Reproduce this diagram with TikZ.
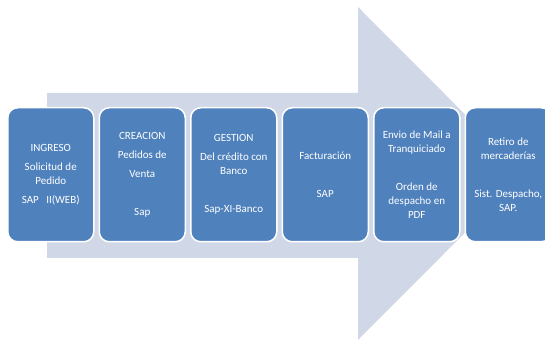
\documentclass[tikz,border=0pt]{standalone}
\usepackage{fontspec}
\setmainfont{Carlito}
\definecolor{arrowfill}{RGB}{208,216,232}
\definecolor{boxfill}{RGB}{79,129,189}
\begin{document}
\begin{tikzpicture}[x=1pt,y=1pt,
  stepbox/.style={draw=white,line width=1.5pt,fill=boxfill,rounded corners=10pt,
    minimum width=86pt,minimum height=134pt,inner sep=0pt,anchor=north west},
  steptext/.style={text=white,align=center,font=\fontsize{11}{14}\selectfont,inner sep=0pt}]
\useasboundingbox (0,0) rectangle (545,344);
\fill[arrowfill] (47,251) -- (358,251) -- (358,337) -- (524,170.5) -- (358,4) -- (358,86) -- (47,86) -- cycle;
\node[stepbox] (b1) at (7,237) {};
\node[stepbox] (b2) at (98.5,237) {};
\node[stepbox] (b3) at (190,237) {};
\node[stepbox] (b4) at (281.5,237) {};
\node[stepbox] (b5) at (373,237) {};
\node[stepbox] (b6) at (464.5,237) {};
\node[steptext] (t1) at (b1.center) {INGRESO\\[5pt]Solicitud de\\Pedido\\[5pt]SAP\ \ \ II(WEB)};
\node[steptext] (t2) at (b2.center) {CREACION\\[5pt]Pedidos de\\[5pt]Venta\\[24pt]Sap};
\node[steptext] (t3) at (b3.center) {GESTION\\[5pt]Del crédito con\\Banco\\[24pt]Sap-XI-Banco};
\node[steptext] (t4) at (b4.center) {Facturación\\[24pt]SAP};
\node[steptext] (t5) at (b5.center) {Envio de Mail a\\Tranquiciado\\[24pt]Orden de\\despacho en\\PDF};
\node[steptext] (t6) at (b6.center) {Retiro de\\mercaderías\\[24pt]Sist. Despacho,\\SAP.};
\end{tikzpicture}
\end{document}
